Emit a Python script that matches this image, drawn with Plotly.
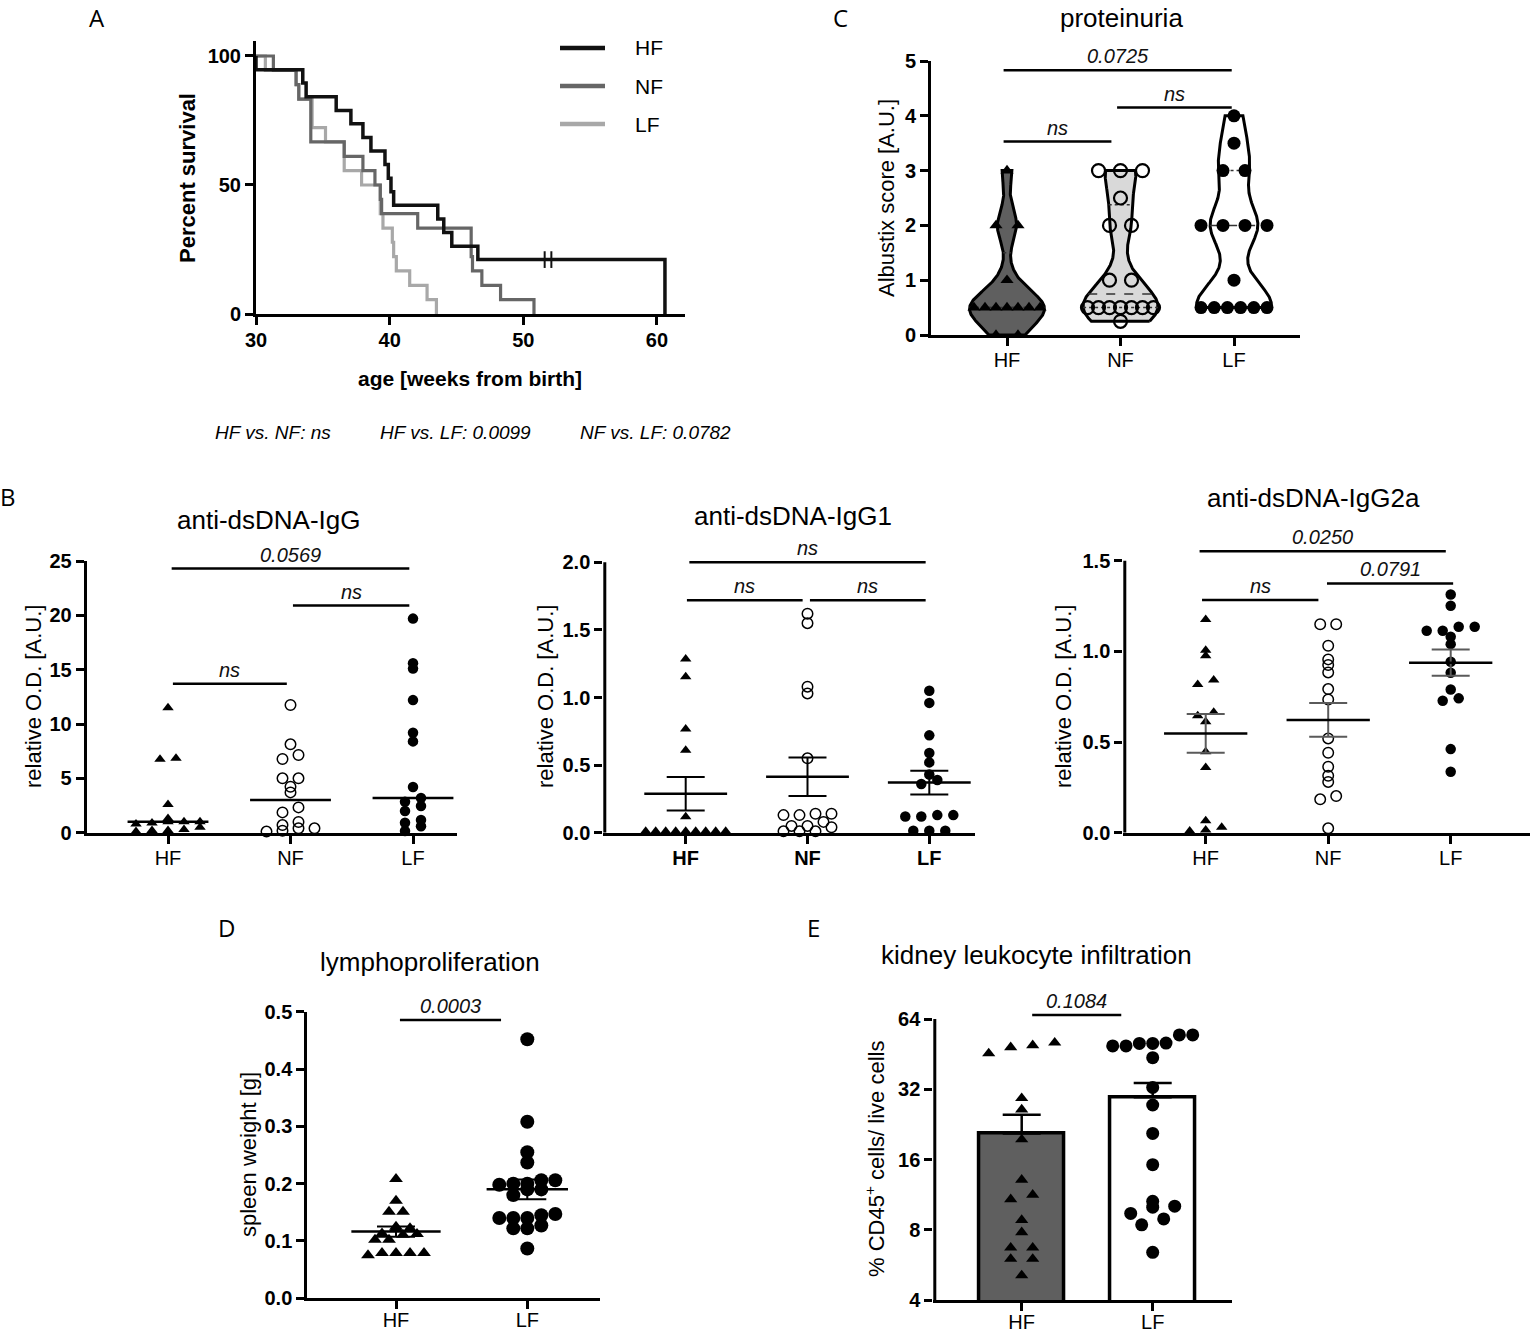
import numpy as np
import plotly.graph_objects as go

W, H = 1536, 1335

# ---------------------------------------------------------------- data
GROUPS3 = ["HF", "NF", "LF"]
GROUPS2 = ["HF", "LF"]

# Panel A - Kaplan-Meier survival (age in weeks, % surviving)
SURV_HF_T = [30.0, 30.0, 33.5, 33.75, 36.0, 37.1, 38.0, 38.6, 39.65, 39.9, 40.1, 40.3, 43.6, 44.05, 44.65, 46.6, 60.6]
SURV_HF_S = [100, 94.7, 89.5, 84.2, 78.9, 73.7, 68.4, 63.2, 57.9, 52.6, 47.4, 42.1, 36.8, 31.6, 26.3, 21.1, 0]
SURV_HF_CENS = [51.6, 52.1]
SURV_NF_T = [30.0, 31.3, 33.0, 33.2, 34.1, 36.6, 38.0, 38.9, 39.3, 39.4, 42.1, 46.1, 46.2, 46.9, 48.3, 50.8]
SURV_NF_S = [100, 94.4, 88.9, 83.3, 66.7, 61.1, 55.6, 50.0, 44.4, 38.9, 33.3, 22.2, 16.7, 11.1, 5.6, 0]
SURV_LF_T = [30.0, 30.7, 33.0, 33.2, 34.2, 35.2, 36.6, 37.9, 39.3, 39.5, 40.2, 40.3, 40.5, 41.5, 42.8, 43.5]
SURV_LF_S = [100, 94.4, 88.9, 83.3, 72.2, 66.7, 55.6, 50.0, 38.9, 33.3, 27.8, 22.2, 16.7, 11.1, 5.6, 0]
A_XTICKS = [30, 40, 50, 60]
A_YTICKS = [0, 50, 100]
A_STATS = ["HF vs. NF: ns", "HF vs. LF: 0.0099", "NF vs. LF: 0.0782"]

# Panel B - anti-dsDNA antibodies (relative O.D.)
IGG_HF = [11.5, 6.85, 6.75, 2.6, 1.3, 1.0, 1.0, 1.0, 0.9, 0.8, 0.5, 0.3, 0.2, 0.2, 0.1]
IGG_NF = [11.75, 8.13, 7.15, 6.78, 5.0, 5.0, 4.23, 3.71, 2.33, 1.87, 0.98, 0.7, 0.4, 0.4, 0.18, 0.1]
IGG_LF = [19.7, 15.6, 15.1, 12.2, 9.2, 8.4, 4.2, 3.2, 2.85, 2.45, 2.0, 1.17, 0.92, 0.6, 0.15]

IGG1_HF = [1.285, 1.154, 0.767, 0.61, 0.118, 0.01, 0.01, 0.01, 0.01, 0.01, 0.01, 0.01, 0.01, 0.01]
IGG1_NF = [1.62, 1.55, 1.08, 1.03, 0.55, 0.14, 0.14, 0.13, 0.13, 0.08, 0.05, 0.05, 0.04, 0.01, 0.01, 0.01]
IGG1_LF = [1.05, 0.96, 0.72, 0.59, 0.52, 0.43, 0.39, 0.36, 0.13, 0.13, 0.12, 0.12, 0.015, 0.015, 0.015]

IGG2A_HF = [1.176, 1.007, 0.976, 0.842, 0.818, 0.664, 0.645, 0.612, 0.447, 0.36, 0.066, 0.03, 0.015, 0.01]
IGG2A_NF = [1.15, 1.15, 1.031, 0.956, 0.925, 0.884, 0.792, 0.735, 0.52, 0.441, 0.364, 0.314, 0.28, 0.202, 0.184, 0.024]
IGG2A_LF = [1.314, 1.252, 1.136, 1.136, 1.114, 1.114, 1.081, 1.04, 0.943, 0.882, 0.79, 0.741, 0.728, 0.461, 0.336]

# Panel C - proteinuria (Albustix score)
ALB_HF = [0, 0, 0.5, 0.5, 0.5, 0.5, 0.5, 0.5, 0.5, 1, 2, 2, 3]
ALB_NF = [0.25, 0.5, 0.5, 0.5, 0.5, 0.5, 0.5, 0.5, 1, 1, 2, 2, 2.5, 3, 3, 3]
ALB_LF = [0.5, 0.5, 0.5, 0.5, 0.5, 0.5, 1, 2, 2, 2, 2, 3, 3, 3.5, 4]

# Panel D - spleen weight [g]
SPLEEN_HF = [0.208, 0.17, 0.151, 0.151, 0.125, 0.122, 0.122, 0.113, 0.112, 0.111, 0.102, 0.102,
             0.079, 0.079, 0.079, 0.079, 0.075]
SPLEEN_LF = [0.452, 0.308, 0.255, 0.237, 0.206, 0.206, 0.2, 0.2, 0.198, 0.19, 0.19, 0.18, 0.147,
             0.145, 0.14, 0.14, 0.14, 0.127, 0.122, 0.122, 0.087]

# Panel E - % CD45+ cells / live cells
CD45_HF = [50.7, 49.4, 48.4, 45.6, 29.3, 26.2, 19.5, 13.1, 11.3, 10.8, 8.8, 7.8, 6.7, 6.7, 6.0, 6.0, 5.1]
CD45_LF = [54.7, 54.7, 50.5, 50.3, 50.3, 49.1, 49.1, 43.7, 32.6, 27.4, 20.7, 15.2, 10.6, 10.1, 10.0,
           9.4, 8.9, 8.4, 6.4]

# y tick values
C_YTICKS = [0, 1, 2, 3, 4, 5]
B1_YTICKS = [0, 5, 10, 15, 20, 25]
B2_YTICKS = [0.0, 0.5, 1.0, 1.5, 2.0]
B3_YTICKS = [0.0, 0.5, 1.0, 1.5]
D_YTICKS = [0.0, 0.1, 0.2, 0.3, 0.4, 0.5]
E_YTICKS = [4, 8, 16, 32, 64]

# significance brackets: (from, to, height, label)
BRACKETS = {
    "C": [(-0.03, 1.98, 4.83, "0.0725"), (0.97, 1.98, 4.15, "ns"), (-0.03, 0.92, 3.53, "ns")],
    "B1": [(0.03, 1.97, 24.3, "0.0569"), (1.02, 1.97, 20.9, "ns"), (0.04, 0.97, 13.7, "ns")],
    "B2": [(0.03, 1.97, 2.0, "ns"), (0.01, 0.96, 1.72, "ns"), (1.02, 1.97, 1.72, "ns")],
    "B3": [(-0.05, 1.96, 1.553, "0.0250"), (0.99, 2.02, 1.375, "0.0791"), (-0.03, 0.92, 1.283, "ns")],
    "D": [(0.03, 0.80, 0.4855, "0.0003")],
    "E": [(0.08, 0.76, 66.6, "0.1084")],
}

# ---------------------------------------------------------------- geometry / style
FONT = "Liberation Sans, Arial, sans-serif"
LFONT = "Open Sans, sans-serif"

BOX = {  # plot area in pixels: left, right, top, bottom
    "A": (256.0, 685.0, 40.5, 314.0),
    "C": (931.0, 1300.0, 61.0, 335.0),
    "B1": (86.7, 456.7, 561.0, 832.7),
    "B2": (603.3, 975.0, 528.5, 832.7),
    "B3": (1123.3, 1530.0, 539.0, 832.7),
    "D": (307.3, 600.0, 1011.7, 1298.3),
    "E": (933.3, 1232.0, 1008.5, 1300.0),
}
CAT = {"C": (1007.0, 113.5), "B1": (168.0, 122.5), "B2": (685.7, 121.8),
       "B3": (1205.7, 122.5), "D": (396.0, 131.3), "E": (1021.7, 131.0)}
YR = {"A": (0, 106), "C": (0, 5), "B1": (0, 25), "B2": (0, 2.25), "B3": (0, 1.62),
      "D": (0, 0.5), "E": (np.log10(4), 6.15 * np.log10(2))}
AXN = {"A": 1, "C": 2, "B1": 3, "B2": 4, "B3": 5, "D": 6, "E": 7}
CUSTOM_YLINE = {"B2": (0, 2.0), "B3": (0, 1.5), "E": (4, 64)}
XLABEL_SHIFT = {"A": -2, "C": -3, "B1": -3, "B2": -3, "B3": -3, "D": -6, "E": -6}

MARK = {"HF": "triangle-up", "NF": "circle-open", "LF": "circle"}
SURV_STYLE = {"HF": ("#111111", 3.5), "NF": ("#666666", 3.2), "LF": ("#a8a8a8", 3.2)}


def px2x(px):
    return px / W


def px2y(py):
    return 1 - py / H


def xr(p):
    l, r, t, b = BOX[p]
    if p == "A":
        return (30.0, 62.1)
    c0, st = CAT[p]
    return ((l - c0) / st, (r - c0) / st)


def ppu_x(p):
    l, r, _, _ = BOX[p]
    a, b = xr(p)
    return (r - l) / (b - a)


def ppu_y(p):
    _, _, t, b = BOX[p]
    a, c = YR[p]
    return (b - t) / (c - a)


def refs(p):
    n = AXN[p]
    s = "" if n == 1 else str(n)
    return "x" + s, "y" + s, "xaxis" + s, "yaxis" + s


fig = go.Figure()
annotations, shapes = [], []
layout = dict(width=W, height=H, margin=dict(l=0, r=0, t=0, b=0, autoexpand=False), paper_bgcolor="white",
              plot_bgcolor="white", showlegend=False, font=dict(family=FONT, color="black"),
              template="none")


def base_axis():
    return dict(showgrid=False, zeroline=False, showline=True, linecolor="black", linewidth=3,
                ticks="outside", ticklen=8, tickwidth=2.5, tickcolor="black", fixedrange=True,
                automargin=False)


def fmt(v):
    return f"{v:.1f}" if isinstance(v, float) else str(v)


def setup_axes(p, yticks, xbold=False, ylog=False, xticks=None, xtext=None):
    xa, ya, xk, yk = refs(p)
    l, r, t, b = BOX[p]
    ax = base_axis()
    ax.update(domain=[px2x(l), px2x(r)], range=list(xr(p)), anchor=ya,
              tickvals=xticks, ticktext=xtext, ticklabelstandoff=XLABEL_SHIFT[p],
              tickfont=dict(size=20, family=FONT, weight="bold" if xbold else "normal"))
    ay = base_axis()
    ay.update(domain=[px2y(b), px2y(t)], range=list(YR[p]), anchor=xa, tickvals=yticks,
              ticktext=[fmt(v) for v in yticks], tickfont=dict(size=20, family=FONT, weight="bold"))
    if ylog:
        ay["type"] = "log"
    if p in CUSTOM_YLINE:
        ay["showline"] = False
        y0, y1 = CUSTOM_YLINE[p]
        x0 = xr(p)[0]
        fig.add_trace(go.Scatter(x=[x0, x0], y=[y0, y1], mode="lines", xaxis=xa, yaxis=ya,
                                 line=dict(color="black", width=6), hoverinfo="skip"))
    layout[xk] = ax
    layout[yk] = ay


def swarm(vals, p, spacing, maxhalf, thresh, log=False):
    v = np.asarray(vals, float)
    pos = np.log10(v) if log else v
    pix = pos * ppu_y(p)
    order = np.argsort(pix, kind="stable")
    off = np.zeros(len(v))
    n, i = len(v), 0
    while i < n:
        j = i
        while j + 1 < n and pix[order[j + 1]] - pix[order[i]] < thresh:
            j += 1
        k = j - i + 1
        sp = spacing if k == 1 else min(spacing, 2 * maxhalf / (k - 1))
        for m in range(k):
            off[order[i + m]] = (m - (k - 1) / 2) * sp
        i = j + 1
    return off / ppu_x(p)


def add_points(p, gi, g, vals, size, lw=1.5, spacing=16, maxhalf=40, thresh=5, log=False):
    xa, ya, _, _ = refs(p)
    off = swarm(vals, p, spacing, maxhalf, thresh, log)
    fig.add_trace(go.Scatter(
        x=gi + off, y=vals, mode="markers", xaxis=xa, yaxis=ya, cliponaxis=False, hoverinfo="skip",
        marker=dict(symbol=MARK[g], size=size, color="black",
                    line=dict(color="black", width=lw if g == "NF" else 0))))


def add_hline(p, gi, val, hw, width=2.5, color="black"):
    xa, ya, _, _ = refs(p)
    fig.add_trace(go.Scatter(x=[gi - hw, gi + hw], y=[val, val], mode="lines", xaxis=xa, yaxis=ya,
                             line=dict(color=color, width=width), hoverinfo="skip"))


def add_mean_sem(p, gi, vals, hw, capw, ecol):
    xa, ya, _, _ = refs(p)
    v = np.asarray(vals, float)
    m = v.mean()
    s = v.std(ddof=1) / np.sqrt(len(v))
    fig.add_trace(go.Scatter(x=[gi], y=[m], mode="markers", xaxis=xa, yaxis=ya,
                             marker=dict(size=1, color="rgba(0,0,0,0)"), hoverinfo="skip",
                             error_y=dict(type="data", array=[s], thickness=2, width=capw, color=ecol)))
    add_hline(p, gi, m, hw)


def add_brackets(p, log=False):
    xa, ya, _, _ = refs(p)
    for x0, x1, h, lab in BRACKETS[p]:
        fig.add_trace(go.Scatter(x=[x0, x1], y=[h, h], mode="lines", xaxis=xa, yaxis=ya,
                                 line=dict(color="black", width=2.5), hoverinfo="skip"))
        annotations.append(dict(x=(x0 + x1) / 2, y=np.log10(h) if log else h, xref=xa, yref=ya,
                                text=f"<i>{lab}</i>", showarrow=False, yanchor="bottom", yshift=1,
                                font=dict(size=20, family=FONT, color="#111")))


def text(x, y, s, size, family=FONT, xanchor="center", angle=0, weight="normal"):
    annotations.append(dict(x=px2x(x), y=px2y(y), xref="paper", yref="paper", text=s, showarrow=False,
                            xanchor=xanchor, yanchor="middle", textangle=angle,
                            font=dict(size=size, family=family, color="black", weight=weight)))


# ---------------------------------------------------------------- Panel A
setup_axes("A", A_YTICKS, xticks=A_XTICKS, xtext=[str(v) for v in A_XTICKS], xbold=True)
layout["yaxis"]["ticktext"] = [str(v) for v in A_YTICKS]
for g, t, s in (("LF", SURV_LF_T, SURV_LF_S), ("NF", SURV_NF_T, SURV_NF_S), ("HF", SURV_HF_T, SURV_HF_S)):
    col, w = SURV_STYLE[g]
    fig.add_trace(go.Scatter(x=t, y=s, mode="lines", line=dict(shape="hv", color=col, width=w),
                             xaxis="x", yaxis="y", hoverinfo="skip"))
cens_y = [SURV_HF_S[int(np.searchsorted(SURV_HF_T, c, side="right")) - 1] for c in SURV_HF_CENS]
fig.add_trace(go.Scatter(x=SURV_HF_CENS, y=cens_y, mode="markers", xaxis="x", yaxis="y",
                         marker=dict(symbol="line-ns", size=12, line=dict(color="#111111", width=2)),
                         hoverinfo="skip"))
for i, g in enumerate(GROUPS3):
    col, w = SURV_STYLE[g]
    yy = 48 + 38 * i
    shapes.append(dict(type="line", xref="paper", yref="paper", x0=px2x(560), x1=px2x(605),
                       y0=px2y(yy), y1=px2y(yy), line=dict(color=col, width=4.5)))
    text(633, yy, g, 21, xanchor="left")
text(188, 178, "Percent survival", 22, angle=-90, weight="bold")
text(470, 378, "age [weeks from birth]", 21, weight="bold")
for s, x in zip(A_STATS, (213, 378, 578)):
    text(x, 432, f"<i>{s}</i>", 19, xanchor="left")

# ---------------------------------------------------------------- Panel C (violins)
setup_axes("C", C_YTICKS, xticks=[0, 1, 2], xtext=GROUPS3)
VIOLIN_FILL = {"HF": "#5f5f5f", "NF": "#d9d9d9", "LF": "white"}
VIOLIN_BW = {"HF": 0.3, "NF": 0.35, "LF": 0.4}
for gi, (g, vals) in enumerate(zip(GROUPS3, (ALB_HF, ALB_NF, ALB_LF))):
    v = np.asarray(vals, float)
    grid = np.linspace(v.min(), v.max(), 300)
    dens = np.exp(-0.5 * ((grid[None, :] - v[:, None]) / VIOLIN_BW[g]) ** 2).sum(axis=0)
    hw = dens / dens.max() * 0.33
    xs = np.concatenate([gi + hw, (gi - hw)[::-1], [gi + hw[0]]])
    ys = np.concatenate([grid, grid[::-1], [grid[0]]])
    fig.add_trace(go.Scatter(x=xs, y=ys, mode="lines", fill="toself", fillcolor=VIOLIN_FILL[g],
                             line=dict(color="black", width=3), xaxis="x2", yaxis="y2", hoverinfo="skip"))
    q1, med, q3 = np.percentile(v, [25, 50, 75], method="weibull")
    for q, dash in ((q1, "dot"), (med, "dash"), (q3, "dot")):
        w = float(np.interp(q, grid, hw))
        fig.add_trace(go.Scatter(x=[gi - w, gi + w], y=[q, q], mode="lines", xaxis="x2", yaxis="y2",
                                 line=dict(color="#333333", width=1.5, dash=dash), hoverinfo="skip"))
for gi, (g, vals) in enumerate(zip(GROUPS3, (ALB_HF, ALB_NF, ALB_LF))):
    add_points("C", gi, g, vals, 13 if g != "HF" else 11.5, lw=2.2, spacing=22, maxhalf=33, thresh=5)
add_brackets("C")
text(1121, 18, "proteinuria", 26)
text(886, 198, "Albustix score [A.U.]", 22, angle=-90)

# ---------------------------------------------------------------- Panel B1 (median)
setup_axes("B1", B1_YTICKS, xticks=[0, 1, 2], xtext=GROUPS3)
for gi, (g, vals) in enumerate(zip(GROUPS3, (IGG_HF, IGG_NF, IGG_LF))):
    add_points("B1", gi, g, vals, 10.5 if g != "HF" else 10)
    add_hline("B1", gi, float(np.median(vals)), 0.33)
add_brackets("B1")
text(269, 520, "anti-dsDNA-IgG", 26)
text(33, 697, "relative O.D. [A.U.]", 22, angle=-90)

# ---------------------------------------------------------------- Panel B2 (mean +- SEM)
setup_axes("B2", B2_YTICKS, xticks=[0, 1, 2], xtext=GROUPS3, xbold=True)
for gi, (g, vals) in enumerate(zip(GROUPS3, (IGG1_HF, IGG1_NF, IGG1_LF))):
    add_points("B2", gi, g, vals, 10.5 if g != "HF" else 10)
    add_mean_sem("B2", gi, vals, 0.34, 19, "black")
add_brackets("B2")
text(793, 516, "anti-dsDNA-IgG1", 26)
text(545, 697, "relative O.D. [A.U.]", 22, angle=-90)

# ---------------------------------------------------------------- Panel B3 (mean +- SEM)
setup_axes("B3", B3_YTICKS, xticks=[0, 1, 2], xtext=GROUPS3)
for gi, (g, vals) in enumerate(zip(GROUPS3, (IGG2A_HF, IGG2A_NF, IGG2A_LF))):
    add_points("B3", gi, g, vals, 10.5 if g != "HF" else 10)
    add_mean_sem("B3", gi, vals, 0.34, 19, "#5a5a5a")
add_brackets("B3")
text(1313, 498, "anti-dsDNA-IgG2a", 26)
text(1063, 697, "relative O.D. [A.U.]", 22, angle=-90)

# ---------------------------------------------------------------- Panel D
setup_axes("D", D_YTICKS, xticks=[0, 1], xtext=GROUPS2)
for gi, (g, vals) in enumerate(zip(GROUPS2, (SPLEEN_HF, SPLEEN_LF))):
    add_points("D", gi, g, vals, 14 if g == "LF" else 12, spacing=14, maxhalf=45, thresh=6)
    add_mean_sem("D", gi, vals, 0.34 if g == "HF" else 0.31, 19, "black")
add_brackets("D")
text(430, 962, "lymphoproliferation", 26)
text(248, 1155, "spleen weight [g]", 22, angle=-90)

# ---------------------------------------------------------------- Panel E (bars, log2 axis)
setup_axes("E", E_YTICKS, xticks=[0, 1], xtext=GROUPS2, ylog=True)
layout["yaxis7"]["ticktext"] = [str(v) for v in E_YTICKS]
e_vals = (np.asarray(CD45_HF), np.asarray(CD45_LF))
e_mean = [v.mean() for v in e_vals]
e_sem = [v.std(ddof=1) / np.sqrt(len(v)) for v in e_vals]
fig.add_trace(go.Bar(x=[0, 1], y=e_mean, width=0.65, xaxis="x7", yaxis="y7", hoverinfo="skip",
                     marker=dict(color=["#5f5f5f", "white"], line=dict(color="black", width=3.5)),
                     error_y=dict(type="data", symmetric=False, array=e_sem, arrayminus=[0, 0],
                                  thickness=2.5, width=19, color="black")))
for gi, (g, vals) in enumerate(zip(GROUPS2, (CD45_HF, CD45_LF))):
    add_points("E", gi, g, vals, 13 if g == "LF" else 11.5, spacing=22, maxhalf=40, thresh=11, log=True)
add_brackets("E", log=True)
text(1036, 955, "kidney leukocyte infiltration", 26)
text(875, 1159, "% CD45<sup>+</sup> cells/ live cells", 22, angle=-90)

# ---------------------------------------------------------------- panel letters
for s, x, y in (("A", 97, 17), ("C", 840, 17), ("B", 8, 497), ("D", 226, 927), ("E", 813, 927)):
    text(x, y, s, 24, family=LFONT)

layout["annotations"] = annotations
layout["shapes"] = shapes
layout["bargap"] = 0
fig.update_layout(**layout)
fig.write_html(
    "out.html",
    config={"displayModeBar": False},
    post_script=(
        "document.documentElement.style.margin='0';document.documentElement.style.padding='0';"
        "document.documentElement.style.overflow='hidden';"
        "document.body.style.margin='0';document.body.style.padding='0';document.body.style.overflow='hidden';"
        "var d=document.getElementById('{plot_id}');"
        "d.style.position='fixed';d.style.left='0px';d.style.top='0px';"
    ),
)
